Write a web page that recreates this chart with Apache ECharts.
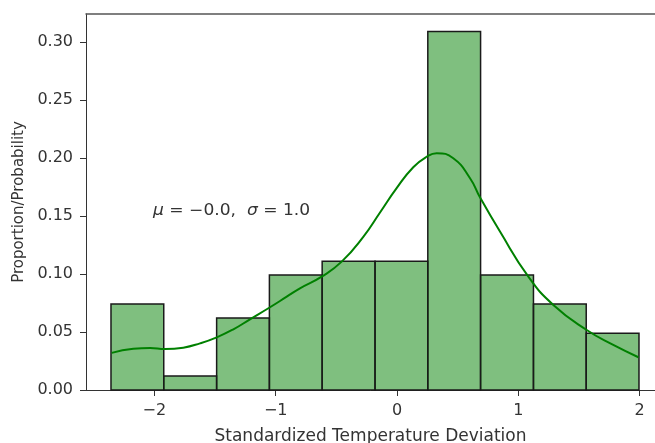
<!DOCTYPE html>
<html>
<head>
<meta charset="utf-8">
<script src="https://cdn.jsdelivr.net/npm/echarts@6/dist/echarts.min.js"></script>
<style>
  html, body { margin: 0; padding: 0; background: #fff; }
  #chart { width: 655px; height: 443px; }
</style>
</head>
<body>
<div id="chart"></div>
<script>
// Histogram bin edges (standardized deviation) and proportions per bin
const binEdges = [-2.358, -1.923, -1.487, -1.052, -0.617, -0.181, 0.254, 0.689, 1.125, 1.560, 1.995];
const proportions = [0.074, 0.012, 0.062, 0.099, 0.111, 0.111, 0.309, 0.099, 0.074, 0.049];

// KDE curve
const kdeX = [-2.352, -2.174, -2.036, -1.913, -1.762, -1.624, -1.486, -1.349, -1.212, -1.047, -0.909, -0.800,
              -0.621, -0.456, -0.278, -0.140, -0.003, 0.134, 0.245, 0.327, 0.464, 0.602, 0.684,
              0.849, 1.083, 1.289, 1.564, 1.783, 1.990];
const kdeY = [0.032, 0.0356, 0.0362, 0.0353, 0.0365, 0.0402, 0.0454, 0.0523, 0.0609, 0.0713, 0.0804, 0.0876,
              0.0977, 0.1106, 0.132, 0.153, 0.174, 0.192, 0.201, 0.204, 0.1997, 0.1825, 0.166,
              0.1365, 0.0977, 0.0733, 0.0517, 0.0388, 0.0282];

// Tick labels
const xTicks = [-2, -1, 0, 1, 2];
const yTicks = [0, 0.05, 0.10, 0.15, 0.20, 0.25, 0.30];

const annotation = '{i|μ} = −0.0,  {i|σ} = 1.0';

const barData = proportions.map((p, i) => [binEdges[i], binEdges[i + 1], p]);
const kdeData = kdeX.map((x, i) => [x, kdeY[i]]);

const chart = echarts.init(document.getElementById('chart'), null, { renderer: 'canvas' });
const FONT = 'DejaVu Sans';
const AXC = '#333';

chart.setOption({
  animation: false,
  backgroundColor: '#fff',
  grid: { left: 86, right: 0, top: 14, bottom: 53, containLabel: false, outerBoundsMode: 'none' },
  xAxis: [{
    type: 'value',
    min: -2.564, max: 2.127,
    position: 'bottom',
    name: 'Standardized Temperature Deviation',
    nameLocation: 'middle',
    nameGap: 38,
    nameTextStyle: { fontFamily: FONT, fontSize: 17, color: '#333' },
    axisLine: { show: true, onZero: false, lineStyle: { color: AXC, width: 1 } },
    axisTick: { show: true, length: 6, inside: false, customValues: xTicks, lineStyle: { color: AXC } },
    axisLabel: { customValues: xTicks, fontFamily: FONT, fontSize: 16, color: '#333', margin: 13,
      formatter: v => String(v).replace('-', '\u2212') },
    splitLine: { show: false }
  }, {
    type: 'value',
    min: -2.564, max: 2.127,
    position: 'top',
    axisLine: { show: true, onZero: false, lineStyle: { color: '#555', width: 1.5 } },
    axisTick: { show: false },
    axisLabel: { show: false },
    splitLine: { show: false }
  }],
  yAxis: {
    type: 'value',
    min: 0, max: 0.324,
    name: 'Proportion/Probability',
    nameLocation: 'middle',
    nameGap: 59,
    nameTextStyle: { fontFamily: FONT, fontSize: 15, color: '#333' },
    axisLine: { show: true, onZero: false, lineStyle: { color: AXC, width: 1 } },
    axisTick: { show: true, length: 6, customValues: yTicks, lineStyle: { color: AXC } },
    axisLabel: { customValues: yTicks, fontFamily: FONT, fontSize: 16, color: '#333', margin: 13,
      formatter: v => v.toFixed(2) },
    splitLine: { show: false }
  },
  graphic: [{
    type: 'text',
    x: 153, y: 204,
    scaleX: 1.14,
    style: {
      text: annotation,
      font: '15px "DejaVu Sans"',
      fill: '#333',
      rich: { i: { fontStyle: 'italic', fontFamily: FONT, fontSize: 15, fill: '#333' } }
    }
  }],
  series: [{
    type: 'custom',
    xAxisIndex: 0,
    data: barData,
    z: 2,
    renderItem: function (params, api) {
      const p0 = api.coord([api.value(0), 0]);
      const p1 = api.coord([api.value(1), api.value(2)]);
      return {
        type: 'rect',
        shape: { x: p0[0], y: p1[1], width: p1[0] - p0[0], height: p0[1] - p1[1] },
        style: { fill: 'rgba(0,128,0,0.5)', stroke: '#1a1a1a', lineWidth: 1.5 }
      };
    }
  }, {
    type: 'line',
    xAxisIndex: 0,
    data: kdeData,
    smooth: 0.5,
    showSymbol: false,
    z: 3,
    lineStyle: { color: '#008000', width: 2 }
  }]
});
</script>
</body>
</html>
